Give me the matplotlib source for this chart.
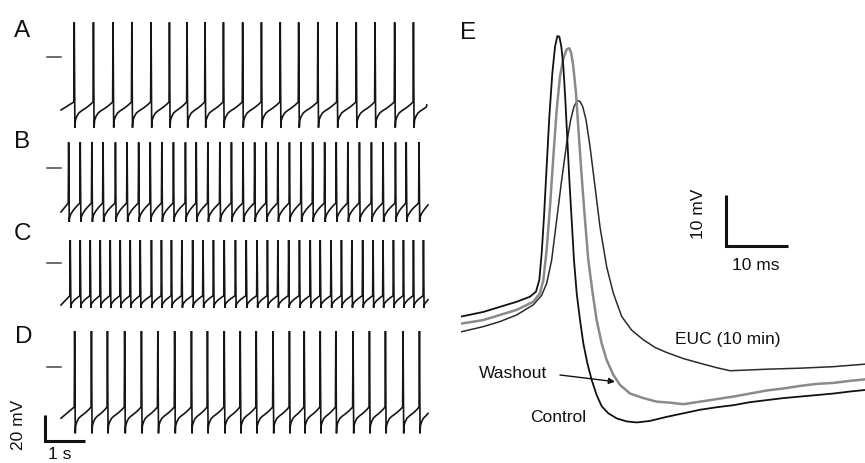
import numpy as np
import matplotlib
matplotlib.use('Agg')
import matplotlib.pyplot as plt

plt.rcParams['font.family'] = ['Liberation Sans', 'DejaVu Sans']

# ---------------- data ----------------
panel_labels = ['A', 'B', 'C', 'D']

# spike times (s) for the four long recordings
spikes_A = [0.30, 0.78, 1.27, 1.74, 2.22, 2.68, 3.12, 3.57, 4.03, 4.51, 4.98, 5.45,
            5.91, 6.39, 6.87, 7.35, 7.82, 8.31, 8.78]
spikes_B = [0.16, 0.45, 0.74, 1.02, 1.33, 1.62, 1.91, 2.20, 2.49, 2.78, 3.08, 3.35,
            3.64, 3.94, 4.23, 4.52, 4.81, 5.10, 5.39, 5.68, 5.97, 6.26, 6.56, 6.85,
            7.14, 7.43, 7.73, 8.02, 8.33, 8.60, 8.92]
spikes_C = [0.20, 0.45, 0.70, 0.95, 1.20, 1.45, 1.70, 1.95, 2.23, 2.48, 2.73, 2.99,
            3.26, 3.52, 3.78, 4.05, 4.33, 4.60, 4.87, 5.13, 5.39, 5.66, 5.93, 6.20,
            6.45, 6.72, 6.98, 7.24, 7.51, 7.77, 8.02, 8.28, 8.53, 8.78, 9.03]
spikes_D = [0.31, 0.73, 1.13, 1.56, 1.98, 2.39, 2.81, 3.23, 3.63, 4.05, 4.45, 4.85,
            5.27, 5.68, 6.05, 6.45, 6.84, 7.27, 7.68, 8.08, 8.52, 8.93]

peak_mV = [26.7, 20.2, 17.6, 28.1]
trough_mV = [-55.0, -41.6, -34.9, -51.2]
threshold_mV = [-35.1, -26.9, -25.6, -30.8]
start_mV = [-41.3, -33.9, -32.8, -39.5]
end_mV = [-37.4, -28.4, -28.8, -35.7]
trace_start_s = -0.025
trace_end_s = [9.12, 9.15, 9.15, 9.15]

# inter-spike trajectory (fraction of ISI, fraction trough->threshold)
slow_phase = [0.07, 0.14, 0.25, 0.40, 0.55, 0.70, 0.85, 0.95]
slow_level = [0.28, 0.43, 0.57, 0.66, 0.73, 0.81, 0.90, 0.97]
fast_phase = [0.08, 0.20, 0.40, 0.60, 0.80, 0.95]
fast_level = [0.20, 0.40, 0.60, 0.75, 0.88, 0.97]

# panel E: averaged action potentials (ms, mV)
ctrl_t = [0.1, 3.57, 6.23, 8.89, 11.02, 11.98, 12.51, 12.89, 13.26, 13.68, 14.11, 14.59,
          15.02, 15.39, 15.71, 16.03, 16.35, 16.67, 16.99, 17.31, 17.68, 18.05, 18.48,
          19.01, 19.54, 20.18, 20.87, 21.67, 22.47, 23.54, 24.87, 26.46, 28.06, 30.19,
          32.85, 35.52, 38.18, 40.84, 43.50, 46.17, 48.83, 51.49, 54.15, 56.82, 59.48,
          62.14, 64.54]
ctrl_v = [-41.1, -40.2, -39.2, -38.2, -37.2, -36.2, -33.9, -28.6, -21.4, -11.6, -1.7, 6.9,
          12.1, 14.2, 14.1, 12.1, 8.2, 1.6, -6.3, -14.2, -22.1, -30.0, -36.5, -41.8, -46.4,
          -50.3, -53.6, -56.6, -58.8, -60.2, -61.2, -61.8, -62.0, -61.7, -60.9, -60.2,
          -59.5, -59.0, -58.6, -58.0, -57.6, -57.2, -56.9, -56.6, -56.3, -55.9, -55.6]
wash_t = [0.1, 3.57, 6.23, 8.89, 11.55, 12.62, 13.15, 13.68, 14.22, 14.75, 15.28, 15.81,
          16.35, 16.88, 17.31, 17.62, 17.94, 18.37, 18.80, 19.28, 19.81, 20.34, 21.03,
          21.67, 22.47, 23.27, 24.33, 25.40, 27.00, 29.13, 31.26, 33.39, 35.52, 38.18,
          40.84, 43.50, 46.17, 48.83, 51.49, 54.15, 56.82, 59.48, 62.14, 64.54]
wash_v = [-42.5, -41.8, -40.8, -39.8, -38.2, -36.5, -33.9, -28.0, -19.4, -9.6, -0.4, 6.2,
          9.8, 11.6, 11.8, 10.8, 8.2, 2.9, -5.0, -13.5, -22.1, -30.0, -36.5, -41.8, -46.4,
          -49.7, -52.6, -54.6, -56.3, -57.2, -57.9, -58.1, -58.4, -57.9, -57.4, -56.9,
          -56.3, -55.7, -55.3, -54.8, -54.4, -54.2, -53.8, -53.5]
euc_t = [0.1, 3.57, 6.23, 8.89, 11.55, 12.89, 13.68, 14.48, 15.28, 16.08, 16.88, 17.52,
         18.05, 18.58, 19.01, 19.44, 19.97, 20.61, 21.41, 22.20, 23.27, 24.33, 25.67,
         27.26, 29.13, 30.99, 32.85, 35.52, 38.71, 40.84, 42.97, 45.10, 48.83, 54.15,
         59.48, 64.54]
euc_v = [-44.1, -43.1, -42.1, -40.8, -38.8, -36.9, -34.6, -30.0, -22.1, -14.2, -7.0, -2.3,
         0.3, 1.5, 1.3, 0.3, -2.3, -7.6, -15.5, -23.4, -31.3, -36.5, -41.1, -43.8, -45.7,
         -47.2, -48.2, -49.4, -50.5, -51.2, -51.8, -51.7, -51.5, -51.3, -51.0, -50.5]

# ---------------- layout ----------------
W, H = 865, 463
fig = plt.figure(figsize=(W / 100, H / 100), dpi=100)

PX_PER_S = 40.0
PX_PER_MV = 1.29
T0_PX = 62.0
LEFT_W = 440.0
zero_px = [56.7, 168.3, 262.7, 367.3]
label_pos = [(22.5, 37.3), (22.5, 148), (22.5, 240), (23.5, 343.3)]
TRACE_C = '#151515'
LABEL_FS = 17.5
TEXT_FS = 12.5


def build_trace(spikes, pk, tr, th, v0, v1, t_end, phase, level):
    ts = [trace_start_s]
    vs = [v0]
    isi_mean = float(np.mean(np.diff(spikes)))
    for i, s in enumerate(spikes):
        ts += [s - 0.004, s + 0.006, s + 0.022]
        vs += [th, pk, tr]
        nxt = spikes[i + 1] if i + 1 < len(spikes) else s + isi_mean
        isi = nxt - s
        for f, lv in zip(phase, level):
            t = s + f * isi
            if t >= t_end:
                break
            ts.append(t)
            vs.append(tr + lv * (th - tr))
    ts.append(t_end)
    vs.append(v1)
    return ts, vs


spike_sets = [spikes_A, spikes_B, spikes_C, spikes_D]
templates = [(slow_phase, slow_level), (fast_phase, fast_level),
             (fast_phase, fast_level), (slow_phase, slow_level)]

axes_left = []
for i in range(4):
    y0 = zero_px[i]
    ax = fig.add_axes([0, 0, LEFT_W / W, 1])
    ax.set_xlim((0 - T0_PX) / PX_PER_S, (LEFT_W - T0_PX) / PX_PER_S)
    ax.set_ylim(-(H - y0) / PX_PER_MV, y0 / PX_PER_MV)
    ax.axis('off')
    ph, lv = templates[i]
    ts, vs = build_trace(spike_sets[i], peak_mV[i], trough_mV[i], threshold_mV[i],
                         start_mV[i], end_mV[i], trace_end_s[i], ph, lv)
    ax.plot(ts, vs, color=TRACE_C, lw=1.2, solid_joinstyle='miter')
    # 0 mV marker
    ax.plot([-0.37, -0.03], [0, 0], color='#444444', lw=1.1)
    axes_left.append(ax)
    lx, ly = label_pos[i]
    fig.text(lx / W, 1 - ly / H, panel_labels[i], fontsize=LABEL_FS, ha='center',
             va='baseline', color='#111111')

# scale bar for A-D (20 mV, 1 s)
axd = axes_left[3]
sb_x = -0.425
sb_y = -56.9
axd.plot([sb_x, sb_x, sb_x + 1.0], [sb_y + 20, sb_y, sb_y], color='#111111', lw=2.2,
         solid_joinstyle='miter', solid_capstyle='butt', clip_on=False)
axd.text(-1.1, sb_y + 12.2, '20 mV', rotation=90, ha='center', va='center',
         fontsize=TEXT_FS, color='#111111')
axd.text(-0.06, -(462 - zero_px[3]) / PX_PER_MV, '1 s', ha='center', va='bottom',
         fontsize=TEXT_FS, color='#111111')

# ---------------- panel E ----------------
E_X0 = 461.0
E_PX_PER_MS = 6.26
E_PX_PER_MV = 5.07
axe = fig.add_axes([E_X0 / W, 0, (W - E_X0) / W, 1])
axe.set_xlim(0, (W - E_X0) / E_PX_PER_MS)
axe.set_ylim(-70, -70 + H / E_PX_PER_MV)
axe.axis('off')

axe.plot(euc_t, euc_v, color='#2b2b2b', lw=1.1)
axe.plot(wash_t, wash_v, color='#8a8a8a', lw=1.8)
axe.plot(ctrl_t, ctrl_v, color='#111111', lw=1.3)

# scale bar 10 mV / 10 ms
ex, ey = 42.28, -27.14
axe.plot([ex, ex, ex + 10], [ey + 10, ey, ey], color='#111111', lw=2.2,
         solid_joinstyle='miter', solid_capstyle='butt')
axe.text(ex + 4.8, -31.1, '10 ms', ha='center', va='center', fontsize=TEXT_FS, color='#111111')
axe.text(37.86, -20.9, '10 mV', rotation=90, ha='center', va='center', fontsize=TEXT_FS,
         color='#111111')

axe.text(34.19, -45.7, 'EUC (10 min)', ha='left', va='center', fontsize=TEXT_FS, color='#111111')
axe.text(2.92, -52.3, 'Washout', ha='left', va='center', fontsize=TEXT_FS, color='#111111')
axe.text(11.02, -61.07, 'Control', ha='left', va='center', fontsize=TEXT_FS, color='#111111')
axe.annotate('', xy=(24.6, -53.96), xytext=(15.81, -52.64),
             arrowprops=dict(arrowstyle='-|>', color='#111111', lw=1.0, mutation_scale=9,
                             shrinkA=0, shrinkB=0))

fig.text(468 / W, 1 - 39.3 / H, 'E', fontsize=LABEL_FS, ha='center', va='baseline',
         color='#111111')

fig.savefig('out.png', dpi=100)
